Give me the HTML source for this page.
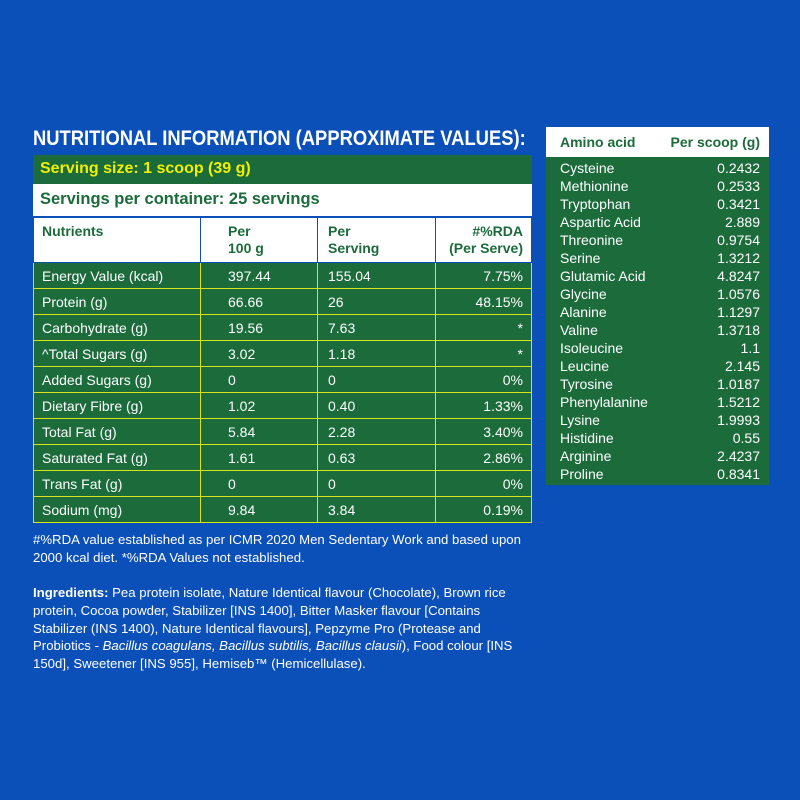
<!DOCTYPE html>
<html><head><meta charset="utf-8"><style>
*{margin:0;padding:0;box-sizing:border-box}
body{width:800px;height:800px;background:#0b4fb8;position:relative;overflow:hidden;font-family:"Liberation Sans",sans-serif;color:#fff}
.a{position:absolute;white-space:nowrap}
.title{left:33px;top:127px;font-size:21px;font-weight:bold;transform:scaleX(0.875);transform-origin:left top}
table{position:absolute;left:33px;top:217px;width:499px;border-collapse:collapse;font-size:14px}
td{height:26px;border:1.5px solid #d9e21a;background:#1b6b3b;padding:0 8px;vertical-align:middle}
tr.h td{height:45px;background:#fff;color:#1b6b3b;font-weight:bold;border-color:#0b4fb8;vertical-align:top;padding-top:5px;line-height:17px}
.c1{width:167px}.c2{width:117px;padding-left:27px}.c3{width:118px;padding-left:10px}.c4{text-align:right}
.amino{position:absolute;left:546px;top:127px;width:223px;height:358px;background:#1b6b3b}
.ah{position:absolute;left:0;top:0;width:223px;height:30px;background:#fff;color:#1b6b3b;font-weight:bold;font-size:14px}
.ar{position:absolute;left:14px;width:200px;font-size:14px;height:18px;line-height:18px}
.ar span{float:right}
.foot{left:33px;top:531px;font-size:13.2px;line-height:17.5px}
.ing{left:33px;top:584px;font-size:13.2px;line-height:17.8px}
</style></head><body>
<div class="a title">NUTRITIONAL INFORMATION (APPROXIMATE VALUES):</div>
<div class="a" style="left:33px;top:155px;width:499px;height:29px;background:#1b6b3b;color:#f0f000;font-weight:bold;font-size:16px;padding:5px 0 0 7px">Serving size: 1 scoop (39 g)</div>
<div class="a" style="left:33px;top:184px;width:499px;height:32px;background:#fff;color:#1b6b3b;font-weight:bold;font-size:16.5px;padding:6px 0 0 7px">Servings per container: 25 servings</div>
<table>
<tr class="h"><td class="c1">Nutrients</td><td class="c2">Per<br>100 g</td><td class="c3">Per<br>Serving</td><td class="c4">#%RDA<br>(Per Serve)</td></tr>
<tr><td class="c1">Energy Value (kcal)</td><td class="c2">397.44</td><td class="c3">155.04</td><td class="c4">7.75%</td></tr>
<tr><td class="c1">Protein (g)</td><td class="c2">66.66</td><td class="c3">26</td><td class="c4">48.15%</td></tr>
<tr><td class="c1">Carbohydrate (g)</td><td class="c2">19.56</td><td class="c3">7.63</td><td class="c4">*</td></tr>
<tr><td class="c1">^Total Sugars (g)</td><td class="c2">3.02</td><td class="c3">1.18</td><td class="c4">*</td></tr>
<tr><td class="c1">Added Sugars (g)</td><td class="c2">0</td><td class="c3">0</td><td class="c4">0%</td></tr>
<tr><td class="c1">Dietary Fibre (g)</td><td class="c2">1.02</td><td class="c3">0.40</td><td class="c4">1.33%</td></tr>
<tr><td class="c1">Total Fat (g)</td><td class="c2">5.84</td><td class="c3">2.28</td><td class="c4">3.40%</td></tr>
<tr><td class="c1">Saturated Fat (g)</td><td class="c2">1.61</td><td class="c3">0.63</td><td class="c4">2.86%</td></tr>
<tr><td class="c1">Trans Fat (g)</td><td class="c2">0</td><td class="c3">0</td><td class="c4">0%</td></tr>
<tr><td class="c1">Sodium (mg)</td><td class="c2">9.84</td><td class="c3">3.84</td><td class="c4">0.19%</td></tr>
</table>
<div class="amino">
<div class="ah"><div class="a" style="left:14px;top:7px">Amino acid</div><div class="a" style="right:9px;top:7px">Per scoop (g)</div></div>
<div class="ar" style="top:32px">Cysteine<span>0.2432</span></div>
<div class="ar" style="top:50px">Methionine<span>0.2533</span></div>
<div class="ar" style="top:68px">Tryptophan<span>0.3421</span></div>
<div class="ar" style="top:86px">Aspartic Acid<span>2.889</span></div>
<div class="ar" style="top:104px">Threonine<span>0.9754</span></div>
<div class="ar" style="top:122px">Serine<span>1.3212</span></div>
<div class="ar" style="top:140px">Glutamic Acid<span>4.8247</span></div>
<div class="ar" style="top:158px">Glycine<span>1.0576</span></div>
<div class="ar" style="top:176px">Alanine<span>1.1297</span></div>
<div class="ar" style="top:194px">Valine<span>1.3718</span></div>
<div class="ar" style="top:212px">Isoleucine<span>1.1</span></div>
<div class="ar" style="top:230px">Leucine<span>2.145</span></div>
<div class="ar" style="top:248px">Tyrosine<span>1.0187</span></div>
<div class="ar" style="top:266px">Phenylalanine<span>1.5212</span></div>
<div class="ar" style="top:284px">Lysine<span>1.9993</span></div>
<div class="ar" style="top:302px">Histidine<span>0.55</span></div>
<div class="ar" style="top:320px">Arginine<span>2.4237</span></div>
<div class="ar" style="top:338px">Proline<span>0.8341</span></div>
</div>
<div class="a foot">#%RDA value established as per ICMR 2020 Men Sedentary Work and based upon<br>2000 kcal diet. *%RDA Values not established.</div>
<div class="a ing"><b>Ingredients:</b> Pea protein isolate, Nature Identical flavour (Chocolate), Brown rice<br>protein, Cocoa powder, Stabilizer [INS 1400], Bitter Masker flavour [Contains<br>Stabilizer (INS 1400), Nature Identical flavours], Pepzyme Pro (Protease and<br>Probiotics - <i>Bacillus coagulans, Bacillus subtilis, Bacillus clausii</i>), Food colour [INS<br>150d], Sweetener [INS 955], Hemiseb™ (Hemicellulase).</div>
</body></html>
